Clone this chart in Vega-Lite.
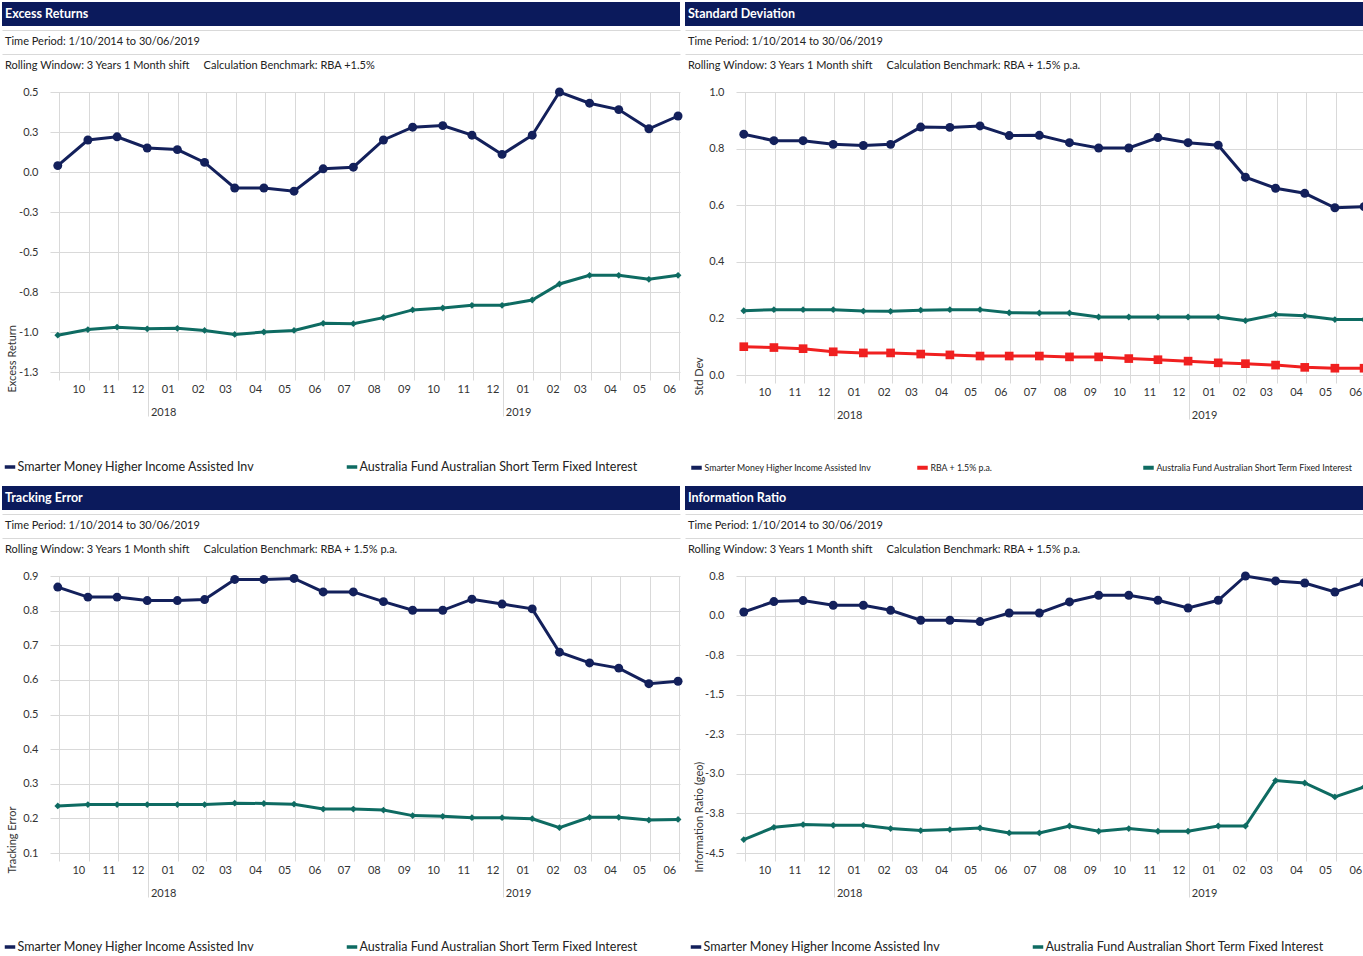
{
  "$schema": "https://vega.github.io/schema/vega-lite/v6.json",
  "background": "white",
  "padding": {"left": 2, "top": 2, "right": 0, "bottom": 0},
  "config": {
    "font": "Lato",
    "view": {"stroke": null},
    "axis": {"labelFont": "Lato", "labelFontSize": 11, "labelColor": "#333333", "titleFont": "Lato", "titleFontSize": 11, "titleFontWeight": "normal", "titleColor": "#333333", "gridColor": "#d9d9d9", "gridWidth": 1, "domain": false, "ticks": false},
    "legend": {"orient": "none", "direction": "horizontal", "title": null, "labelFont": "Lato", "labelFontSize": 12.5, "labelColor": "#222222", "symbolType": "stroke", "symbolStrokeWidth": 3.5, "symbolSize": 110, "labelOffset": 0.5, "gridAlign": "all", "columnPadding": 43, "labelLimit": 400, "padding": 0},
    "concat": {"spacing": 5}
  },
  "datasets": {
    "names": [
      {"key": "smarter", "series": "Smarter Money Higher Income Assisted Inv"},
      {"key": "aus", "series": "Australia Fund Australian Short Term Fixed Interest"},
      {"key": "rba", "series": "RBA + 1.5% p.a."}
    ],
    "excess": [
      {"date": "2017/09/30", "smarter": 0.04, "aus": -1.02},
      {"date": "2017/10/31", "smarter": 0.20, "aus": -0.985},
      {"date": "2017/11/30", "smarter": 0.22, "aus": -0.97},
      {"date": "2017/12/31", "smarter": 0.15, "aus": -0.98},
      {"date": "2018/01/31", "smarter": 0.14, "aus": -0.977},
      {"date": "2018/02/28", "smarter": 0.06, "aus": -0.99},
      {"date": "2018/03/31", "smarter": -0.10, "aus": -1.015},
      {"date": "2018/04/30", "smarter": -0.10, "aus": -1.0},
      {"date": "2018/05/31", "smarter": -0.12, "aus": -0.99},
      {"date": "2018/06/30", "smarter": 0.02, "aus": -0.946},
      {"date": "2018/07/31", "smarter": 0.03, "aus": -0.948},
      {"date": "2018/08/31", "smarter": 0.20, "aus": -0.91},
      {"date": "2018/09/30", "smarter": 0.28, "aus": -0.862},
      {"date": "2018/10/31", "smarter": 0.29, "aus": -0.85},
      {"date": "2018/11/30", "smarter": 0.23, "aus": -0.833},
      {"date": "2018/12/31", "smarter": 0.11, "aus": -0.833},
      {"date": "2019/01/31", "smarter": 0.23, "aus": -0.80},
      {"date": "2019/02/28", "smarter": 0.50, "aus": -0.70},
      {"date": "2019/03/31", "smarter": 0.43, "aus": -0.646},
      {"date": "2019/04/30", "smarter": 0.39, "aus": -0.646},
      {"date": "2019/05/31", "smarter": 0.27, "aus": -0.671},
      {"date": "2019/06/30", "smarter": 0.35, "aus": -0.646}
    ],
    "stdev": [
      {"date": "2017/09/30", "smarter": 0.851, "rba": 0.100, "aus": 0.227},
      {"date": "2017/10/31", "smarter": 0.828, "rba": 0.097, "aus": 0.231},
      {"date": "2017/11/30", "smarter": 0.828, "rba": 0.093, "aus": 0.231},
      {"date": "2017/12/31", "smarter": 0.815, "rba": 0.082, "aus": 0.231},
      {"date": "2018/01/31", "smarter": 0.811, "rba": 0.078, "aus": 0.226},
      {"date": "2018/02/28", "smarter": 0.815, "rba": 0.078, "aus": 0.225},
      {"date": "2018/03/31", "smarter": 0.876, "rba": 0.074, "aus": 0.229},
      {"date": "2018/04/30", "smarter": 0.875, "rba": 0.071, "aus": 0.231},
      {"date": "2018/05/31", "smarter": 0.880, "rba": 0.067, "aus": 0.231},
      {"date": "2018/06/30", "smarter": 0.846, "rba": 0.067, "aus": 0.220},
      {"date": "2018/07/31", "smarter": 0.847, "rba": 0.067, "aus": 0.219},
      {"date": "2018/08/31", "smarter": 0.821, "rba": 0.064, "aus": 0.219},
      {"date": "2018/09/30", "smarter": 0.802, "rba": 0.064, "aus": 0.205},
      {"date": "2018/10/31", "smarter": 0.802, "rba": 0.058, "aus": 0.205},
      {"date": "2018/11/30", "smarter": 0.839, "rba": 0.054, "aus": 0.205},
      {"date": "2018/12/31", "smarter": 0.821, "rba": 0.049, "aus": 0.205},
      {"date": "2019/01/31", "smarter": 0.812, "rba": 0.043, "aus": 0.205},
      {"date": "2019/02/28", "smarter": 0.699, "rba": 0.040, "aus": 0.192},
      {"date": "2019/03/31", "smarter": 0.660, "rba": 0.035, "aus": 0.214},
      {"date": "2019/04/30", "smarter": 0.642, "rba": 0.027, "aus": 0.209},
      {"date": "2019/05/31", "smarter": 0.591, "rba": 0.024, "aus": 0.196},
      {"date": "2019/06/30", "smarter": 0.595, "rba": 0.024, "aus": 0.196}
    ],
    "tracking": [
      {"date": "2017/09/30", "smarter": 0.868, "aus": 0.236},
      {"date": "2017/10/31", "smarter": 0.839, "aus": 0.240},
      {"date": "2017/11/30", "smarter": 0.839, "aus": 0.240},
      {"date": "2017/12/31", "smarter": 0.829, "aus": 0.240},
      {"date": "2018/01/31", "smarter": 0.829, "aus": 0.240},
      {"date": "2018/02/28", "smarter": 0.832, "aus": 0.240},
      {"date": "2018/03/31", "smarter": 0.890, "aus": 0.244},
      {"date": "2018/04/30", "smarter": 0.890, "aus": 0.243},
      {"date": "2018/05/31", "smarter": 0.893, "aus": 0.241},
      {"date": "2018/06/30", "smarter": 0.854, "aus": 0.227},
      {"date": "2018/07/31", "smarter": 0.854, "aus": 0.227},
      {"date": "2018/08/31", "smarter": 0.826, "aus": 0.224},
      {"date": "2018/09/30", "smarter": 0.801, "aus": 0.208},
      {"date": "2018/10/31", "smarter": 0.801, "aus": 0.206},
      {"date": "2018/11/30", "smarter": 0.833, "aus": 0.202},
      {"date": "2018/12/31", "smarter": 0.819, "aus": 0.202},
      {"date": "2019/01/31", "smarter": 0.805, "aus": 0.199},
      {"date": "2019/02/28", "smarter": 0.680, "aus": 0.173},
      {"date": "2019/03/31", "smarter": 0.649, "aus": 0.203},
      {"date": "2019/04/30", "smarter": 0.634, "aus": 0.203},
      {"date": "2019/05/31", "smarter": 0.589, "aus": 0.195},
      {"date": "2019/06/30", "smarter": 0.596, "aus": 0.197}
    ],
    "inforatio": [
      {"date": "2017/09/30", "smarter": 0.068, "aus": -4.246},
      {"date": "2017/10/31", "smarter": 0.265, "aus": -4.013},
      {"date": "2017/11/30", "smarter": 0.284, "aus": -3.961},
      {"date": "2017/12/31", "smarter": 0.195, "aus": -3.975},
      {"date": "2018/01/31", "smarter": 0.195, "aus": -3.975},
      {"date": "2018/02/28", "smarter": 0.100, "aus": -4.037},
      {"date": "2018/03/31", "smarter": -0.089, "aus": -4.075},
      {"date": "2018/04/30", "smarter": -0.089, "aus": -4.056},
      {"date": "2018/05/31", "smarter": -0.114, "aus": -4.026},
      {"date": "2018/06/30", "smarter": 0.049, "aus": -4.120},
      {"date": "2018/07/31", "smarter": 0.049, "aus": -4.120},
      {"date": "2018/08/31", "smarter": 0.258, "aus": -3.988},
      {"date": "2018/09/30", "smarter": 0.385, "aus": -4.088},
      {"date": "2018/10/31", "smarter": 0.385, "aus": -4.037},
      {"date": "2018/11/30", "smarter": 0.290, "aus": -4.088},
      {"date": "2018/12/31", "smarter": 0.144, "aus": -4.088},
      {"date": "2019/01/31", "smarter": 0.290, "aus": -3.988},
      {"date": "2019/02/28", "smarter": 0.750, "aus": -3.988},
      {"date": "2019/03/31", "smarter": 0.656, "aus": -3.127},
      {"date": "2019/04/30", "smarter": 0.618, "aus": -3.173},
      {"date": "2019/05/31", "smarter": 0.447, "aus": -3.438},
      {"date": "2019/06/30", "smarter": 0.625, "aus": -3.249}
    ]
  },
  "resolve": {"scale": {"color": "independent"}, "legend": {"color": "independent"}},
  "spacing": 10,
  "vconcat": [
    {
      "resolve": {"scale": {"color": "independent"}, "legend": {"color": "independent"}},
      "spacing": 8,
      "vconcat": [
        {
          "spacing": 4,
          "vconcat": [
            {
              "spacing": 5,
              "hconcat": [
                {"width": 678, "height": 24, "view": {"fill": "#0b1a5c", "stroke": null},
                 "data": {"values": [{"label": "Excess Returns"}]},
                 "mark": {"type": "text", "align": "left", "baseline": "middle", "dx": 3, "font": "Lato", "fontSize": 12.5, "fontWeight": "bold", "color": "#ffffff"},
                 "encoding": {"text": {"field": "label"}, "x": {"datum": 0, "type": "quantitative", "scale": {"domain": [0, 1]}, "axis": null}}},
                {"width": 678, "height": 24, "view": {"fill": "#0b1a5c", "stroke": null},
                 "data": {"values": [{"label": "Standard Deviation"}]},
                 "mark": {"type": "text", "align": "left", "baseline": "middle", "dx": 3, "font": "Lato", "fontSize": 12.5, "fontWeight": "bold", "color": "#ffffff"},
                 "encoding": {"text": {"field": "label"}, "x": {"datum": 0, "type": "quantitative", "scale": {"domain": [0, 1]}, "axis": null}}}
              ]
            },
            {
              "spacing": 5,
              "hconcat": [
                {"width": 678, "height": 48,
                 "data": {"values": [{"line": "period", "label": "Time Period: 1/10/2014 to 30/06/2019"}, {"line": "window", "label": "Rolling Window: 3 Years 1 Month shift \u00a0\u00a0\u00a0\u00a0Calculation Benchmark: RBA +1.5%"}]},
                 "mark": {"type": "text", "align": "left", "baseline": "middle", "dx": 3, "font": "Lato", "fontSize": 11, "color": "#222222"},
                 "encoding": {"text": {"field": "label"}, "x": {"datum": 0, "type": "quantitative", "scale": {"domain": [0, 1]}, "axis": null},
                   "y": {"field": "line", "type": "nominal", "sort": null, "scale": {"type": "band", "domain": ["period", "window"], "paddingInner": 0, "paddingOuter": 0}, "axis": {"grid": true, "bandPosition": 0, "labels": false, "ticks": false, "domain": false, "title": null}}}},
                {"width": 678, "height": 48,
                 "data": {"values": [{"line": "period", "label": "Time Period: 1/10/2014 to 30/06/2019"}, {"line": "window", "label": "Rolling Window: 3 Years 1 Month shift \u00a0\u00a0\u00a0\u00a0Calculation Benchmark: RBA + 1.5% p.a."}]},
                 "mark": {"type": "text", "align": "left", "baseline": "middle", "dx": 3, "font": "Lato", "fontSize": 11, "color": "#222222"},
                 "encoding": {"text": {"field": "label"}, "x": {"datum": 0, "type": "quantitative", "scale": {"domain": [0, 1]}, "axis": null},
                   "y": {"field": "line", "type": "nominal", "sort": null, "scale": {"type": "band", "domain": ["period", "window"], "paddingInner": 0, "paddingOuter": 0}, "axis": {"grid": true, "bandPosition": 0, "labels": false, "ticks": false, "domain": false, "title": null}}}}
              ]
            }
          ]
        },
        {
          "resolve": {"scale": {"color": "independent"}, "legend": {"color": "independent"}},
          "spacing": 3,
          "hconcat": [
            {
              "width": 678, "height": 280,
              "data": {"name": "excess"},
              "transform": [{"fold": ["smarter", "aus"], "as": ["key", "value"]}, {"lookup": "key", "from": {"data": {"name": "names"}, "key": "key", "fields": ["series"]}}],
              "encoding": {
                "y": {"field": "value", "type": "quantitative", "scale": {"domain": [-1.25, 0.5], "nice": false, "zero": false},
                  "axis": {"offset": -48, "values": [-1.25, -1, -0.75, -0.5, -0.25, 0, 0.25, 0.5], "labelExpr": "replace(format(datum.value, '.1f'), '\u2212', '-')", "labelPadding": 12, "grid": true, "title": "Excess Return", "titleAngle": -90, "titleAlign": "left", "titleBaseline": "middle", "titleX": -38, "titleY": 300}}
              },
              "layer": [
                {"mark": {"type": "line", "strokeWidth": 3},
                 "encoding": {
                   "x": {"field": "date", "type": "temporal", "scale": {"domain": [{"year": 2017, "month": 9, "date": 22}, {"year": 2019, "month": 7, "date": 2}], "range": [48, 678]},
                     "axis": {"orient": "bottom", "values": [{"year": 2017, "month": 10, "date": 1}, {"year": 2017, "month": 11, "date": 1}, {"year": 2017, "month": 12, "date": 1}, {"year": 2018, "month": 1, "date": 1}, {"year": 2018, "month": 2, "date": 1}, {"year": 2018, "month": 3, "date": 1}, {"year": 2018, "month": 4, "date": 1}, {"year": 2018, "month": 5, "date": 1}, {"year": 2018, "month": 6, "date": 1}, {"year": 2018, "month": 7, "date": 1}, {"year": 2018, "month": 8, "date": 1}, {"year": 2018, "month": 9, "date": 1}, {"year": 2018, "month": 10, "date": 1}, {"year": 2018, "month": 11, "date": 1}, {"year": 2018, "month": 12, "date": 1}, {"year": 2019, "month": 1, "date": 1}, {"year": 2019, "month": 2, "date": 1}, {"year": 2019, "month": 3, "date": 1}, {"year": 2019, "month": 4, "date": 1}, {"year": 2019, "month": 5, "date": 1}, {"year": 2019, "month": 6, "date": 1}], "format": "%m", "labelOffset": 19.5, "labelFlush": false, "labelOverlap": false, "labelBound": false, "grid": true, "ticks": true, "tickSize": 8, "tickColor": "#d9d9d9", "labelPadding": 3, "title": null}},
                   "color": {"field": "series", "type": "nominal", "scale": {"domain": ["Smarter Money Higher Income Assisted Inv", "Australia Fund Australian Short Term Fixed Interest"], "range": ["#13205b", "#0e6b62"]}, "legend": {"legendX": 1, "legendY": 368}}
                 }},
                {"transform": [{"filter": {"field": "key", "equal": "smarter"}}],
                 "mark": {"type": "point", "filled": true, "opacity": 1, "size": 80, "shape": "circle", "color": "#13205b"},
                 "encoding": {
                   "x": {"field": "date", "type": "temporal", "scale": {"domain": [{"year": 2017, "month": 9, "date": 22}, {"year": 2019, "month": 7, "date": 2}], "range": [48, 678]}, "axis": {"orient": "bottom", "values": [{"year": 2018, "month": 1, "date": 1}, {"year": 2019, "month": 1, "date": 1}], "format": "%Y", "labelOffset": 15, "labelFlush": false, "grid": false, "ticks": true, "tickSize": 44, "tickColor": "#d9d9d9", "labelPadding": -10, "title": null}}
                 }},
                {"transform": [{"filter": {"field": "key", "equal": "aus"}}],
                 "mark": {"type": "point", "filled": true, "opacity": 1, "size": 64, "shape": "M0,-0.85L0.85,0L0,0.85L-0.85,0Z", "color": "#0e6b62"},
                 "encoding": {
                   "x": {"field": "date", "type": "temporal", "scale": {"domain": [{"year": 2017, "month": 9, "date": 22}, {"year": 2019, "month": 7, "date": 2}], "range": [48, 678]}, "axis": {"orient": "bottom", "values": [{"year": 2019, "month": 7, "date": 1}], "labels": false, "grid": true, "ticks": true, "tickSize": 8, "tickColor": "#d9d9d9", "title": null}}
                 }}
              ],
              "resolve": {"axis": {"x": "independent"}}
            },
            {
              "width": 678, "height": 283,
              "data": {"name": "stdev"},
              "transform": [{"fold": ["smarter", "rba", "aus"], "as": ["key", "value"]}, {"lookup": "key", "from": {"data": {"name": "names"}, "key": "key", "fields": ["series"]}}],
              "encoding": {
                "y": {"field": "value", "type": "quantitative", "scale": {"domain": [0, 1], "nice": false, "zero": false},
                  "axis": {"offset": -48, "values": [0, 0.2, 0.4, 0.6, 0.8, 1.0], "labelExpr": "replace(format(datum.value, '.1f'), '\u2212', '-')", "labelPadding": 12, "grid": true, "title": "Std Dev", "titleAngle": -90, "titleAlign": "left", "titleBaseline": "middle", "titleX": -37, "titleY": 303}}
              },
              "layer": [
                {"mark": {"type": "line", "strokeWidth": 3},
                 "encoding": {
                   "x": {"field": "date", "type": "temporal", "scale": {"domain": [{"year": 2017, "month": 9, "date": 22}, {"year": 2019, "month": 7, "date": 2}], "range": [48, 678]},
                     "axis": {"orient": "bottom", "values": [{"year": 2017, "month": 10, "date": 1}, {"year": 2017, "month": 11, "date": 1}, {"year": 2017, "month": 12, "date": 1}, {"year": 2018, "month": 1, "date": 1}, {"year": 2018, "month": 2, "date": 1}, {"year": 2018, "month": 3, "date": 1}, {"year": 2018, "month": 4, "date": 1}, {"year": 2018, "month": 5, "date": 1}, {"year": 2018, "month": 6, "date": 1}, {"year": 2018, "month": 7, "date": 1}, {"year": 2018, "month": 8, "date": 1}, {"year": 2018, "month": 9, "date": 1}, {"year": 2018, "month": 10, "date": 1}, {"year": 2018, "month": 11, "date": 1}, {"year": 2018, "month": 12, "date": 1}, {"year": 2019, "month": 1, "date": 1}, {"year": 2019, "month": 2, "date": 1}, {"year": 2019, "month": 3, "date": 1}, {"year": 2019, "month": 4, "date": 1}, {"year": 2019, "month": 5, "date": 1}, {"year": 2019, "month": 6, "date": 1}], "format": "%m", "labelOffset": 19.5, "labelFlush": false, "labelOverlap": false, "labelBound": false, "grid": true, "ticks": true, "tickSize": 8, "tickColor": "#d9d9d9", "labelPadding": 3, "title": null}},
                   "color": {"field": "series", "type": "nominal", "scale": {"domain": ["Smarter Money Higher Income Assisted Inv", "RBA + 1.5% p.a.", "Australia Fund Australian Short Term Fixed Interest"], "range": ["#13205b", "#f02020", "#0e6b62"]}, "legend": {"legendX": 1, "legendY": 368, "labelFontSize": 8.8, "columnPadding": 8, "symbolStrokeWidth": 4}}
                 }},
                {"transform": [{"filter": {"field": "key", "equal": "smarter"}}],
                 "mark": {"type": "point", "filled": true, "opacity": 1, "size": 80, "shape": "circle", "color": "#13205b"},
                 "encoding": {
                   "x": {"field": "date", "type": "temporal", "scale": {"domain": [{"year": 2017, "month": 9, "date": 22}, {"year": 2019, "month": 7, "date": 2}], "range": [48, 678]}, "axis": {"orient": "bottom", "values": [{"year": 2018, "month": 1, "date": 1}, {"year": 2019, "month": 1, "date": 1}], "format": "%Y", "labelOffset": 15, "labelFlush": false, "grid": false, "ticks": true, "tickSize": 44, "tickColor": "#d9d9d9", "labelPadding": -10, "title": null}}
                 }},
                {"transform": [{"filter": {"field": "key", "equal": "aus"}}],
                 "mark": {"type": "point", "filled": true, "opacity": 1, "size": 64, "shape": "M0,-0.85L0.85,0L0,0.85L-0.85,0Z", "color": "#0e6b62"},
                 "encoding": {
                   "x": {"field": "date", "type": "temporal", "scale": {"domain": [{"year": 2017, "month": 9, "date": 22}, {"year": 2019, "month": 7, "date": 2}], "range": [48, 678]}, "axis": {"orient": "bottom", "values": [{"year": 2019, "month": 7, "date": 1}], "labels": false, "grid": true, "ticks": true, "tickSize": 8, "tickColor": "#d9d9d9", "title": null}}
                 }},
                {"transform": [{"filter": {"field": "key", "equal": "rba"}}],
                 "mark": {"type": "point", "filled": true, "opacity": 1, "size": 75, "shape": "square", "color": "#f02020"},
                 "encoding": {
                   "x": {"field": "date", "type": "temporal", "scale": {"domain": [{"year": 2017, "month": 9, "date": 22}, {"year": 2019, "month": 7, "date": 2}], "range": [48, 678]}, "axis": null}
                 }}
              ],
              "resolve": {"axis": {"x": "independent"}}
            }
          ]
        }
      ]
    },
    {
      "resolve": {"scale": {"color": "independent"}, "legend": {"color": "independent"}},
      "spacing": 8,
      "vconcat": [
        {
          "spacing": 4,
          "vconcat": [
            {
              "spacing": 5,
              "hconcat": [
                {"width": 678, "height": 24, "view": {"fill": "#0b1a5c", "stroke": null},
                 "data": {"values": [{"label": "Tracking Error"}]},
                 "mark": {"type": "text", "align": "left", "baseline": "middle", "dx": 3, "font": "Lato", "fontSize": 12.5, "fontWeight": "bold", "color": "#ffffff"},
                 "encoding": {"text": {"field": "label"}, "x": {"datum": 0, "type": "quantitative", "scale": {"domain": [0, 1]}, "axis": null}}},
                {"width": 678, "height": 24, "view": {"fill": "#0b1a5c", "stroke": null},
                 "data": {"values": [{"label": "Information Ratio"}]},
                 "mark": {"type": "text", "align": "left", "baseline": "middle", "dx": 3, "font": "Lato", "fontSize": 12.5, "fontWeight": "bold", "color": "#ffffff"},
                 "encoding": {"text": {"field": "label"}, "x": {"datum": 0, "type": "quantitative", "scale": {"domain": [0, 1]}, "axis": null}}}
              ]
            },
            {
              "spacing": 5,
              "hconcat": [
                {"width": 678, "height": 48,
                 "data": {"values": [{"line": "period", "label": "Time Period: 1/10/2014 to 30/06/2019"}, {"line": "window", "label": "Rolling Window: 3 Years 1 Month shift \u00a0\u00a0\u00a0\u00a0Calculation Benchmark: RBA + 1.5% p.a."}]},
                 "mark": {"type": "text", "align": "left", "baseline": "middle", "dx": 3, "font": "Lato", "fontSize": 11, "color": "#222222"},
                 "encoding": {"text": {"field": "label"}, "x": {"datum": 0, "type": "quantitative", "scale": {"domain": [0, 1]}, "axis": null},
                   "y": {"field": "line", "type": "nominal", "sort": null, "scale": {"type": "band", "domain": ["period", "window"], "paddingInner": 0, "paddingOuter": 0}, "axis": {"grid": true, "bandPosition": 0, "labels": false, "ticks": false, "domain": false, "title": null}}}},
                {"width": 678, "height": 48,
                 "data": {"values": [{"line": "period", "label": "Time Period: 1/10/2014 to 30/06/2019"}, {"line": "window", "label": "Rolling Window: 3 Years 1 Month shift \u00a0\u00a0\u00a0\u00a0Calculation Benchmark: RBA + 1.5% p.a."}]},
                 "mark": {"type": "text", "align": "left", "baseline": "middle", "dx": 3, "font": "Lato", "fontSize": 11, "color": "#222222"},
                 "encoding": {"text": {"field": "label"}, "x": {"datum": 0, "type": "quantitative", "scale": {"domain": [0, 1]}, "axis": null},
                   "y": {"field": "line", "type": "nominal", "sort": null, "scale": {"type": "band", "domain": ["period", "window"], "paddingInner": 0, "paddingOuter": 0}, "axis": {"grid": true, "bandPosition": 0, "labels": false, "ticks": false, "domain": false, "title": null}}}}
              ]
            }
          ]
        },
        {
          "resolve": {"scale": {"color": "independent"}, "legend": {"color": "independent"}},
          "spacing": 3,
          "hconcat": [
            {
              "width": 678, "height": 277,
              "data": {"name": "tracking"},
              "transform": [{"fold": ["smarter", "aus"], "as": ["key", "value"]}, {"lookup": "key", "from": {"data": {"name": "names"}, "key": "key", "fields": ["series"]}}],
              "encoding": {
                "y": {"field": "value", "type": "quantitative", "scale": {"domain": [0.1, 0.9], "nice": false, "zero": false},
                  "axis": {"offset": -48, "values": [0.1, 0.2, 0.3, 0.4, 0.5, 0.6, 0.7, 0.8, 0.9], "labelExpr": "replace(format(datum.value, '.1f'), '\u2212', '-')", "labelPadding": 12, "grid": true, "title": "Tracking Error", "titleAngle": -90, "titleAlign": "left", "titleBaseline": "middle", "titleX": -38, "titleY": 297}}
              },
              "layer": [
                {"mark": {"type": "line", "strokeWidth": 3},
                 "encoding": {
                   "x": {"field": "date", "type": "temporal", "scale": {"domain": [{"year": 2017, "month": 9, "date": 22}, {"year": 2019, "month": 7, "date": 2}], "range": [48, 678]},
                     "axis": {"orient": "bottom", "values": [{"year": 2017, "month": 10, "date": 1}, {"year": 2017, "month": 11, "date": 1}, {"year": 2017, "month": 12, "date": 1}, {"year": 2018, "month": 1, "date": 1}, {"year": 2018, "month": 2, "date": 1}, {"year": 2018, "month": 3, "date": 1}, {"year": 2018, "month": 4, "date": 1}, {"year": 2018, "month": 5, "date": 1}, {"year": 2018, "month": 6, "date": 1}, {"year": 2018, "month": 7, "date": 1}, {"year": 2018, "month": 8, "date": 1}, {"year": 2018, "month": 9, "date": 1}, {"year": 2018, "month": 10, "date": 1}, {"year": 2018, "month": 11, "date": 1}, {"year": 2018, "month": 12, "date": 1}, {"year": 2019, "month": 1, "date": 1}, {"year": 2019, "month": 2, "date": 1}, {"year": 2019, "month": 3, "date": 1}, {"year": 2019, "month": 4, "date": 1}, {"year": 2019, "month": 5, "date": 1}, {"year": 2019, "month": 6, "date": 1}], "format": "%m", "labelOffset": 19.5, "labelFlush": false, "labelOverlap": false, "labelBound": false, "grid": true, "ticks": true, "tickSize": 8, "tickColor": "#d9d9d9", "labelPadding": 3, "title": null}},
                   "color": {"field": "series", "type": "nominal", "scale": {"domain": ["Smarter Money Higher Income Assisted Inv", "Australia Fund Australian Short Term Fixed Interest"], "range": ["#13205b", "#0e6b62"]}, "legend": {"legendX": 1, "legendY": 364}}
                 }},
                {"transform": [{"filter": {"field": "key", "equal": "smarter"}}],
                 "mark": {"type": "point", "filled": true, "opacity": 1, "size": 80, "shape": "circle", "color": "#13205b"},
                 "encoding": {
                   "x": {"field": "date", "type": "temporal", "scale": {"domain": [{"year": 2017, "month": 9, "date": 22}, {"year": 2019, "month": 7, "date": 2}], "range": [48, 678]}, "axis": {"orient": "bottom", "values": [{"year": 2018, "month": 1, "date": 1}, {"year": 2019, "month": 1, "date": 1}], "format": "%Y", "labelOffset": 15, "labelFlush": false, "grid": false, "ticks": true, "tickSize": 44, "tickColor": "#d9d9d9", "labelPadding": -10, "title": null}}
                 }},
                {"transform": [{"filter": {"field": "key", "equal": "aus"}}],
                 "mark": {"type": "point", "filled": true, "opacity": 1, "size": 64, "shape": "M0,-0.85L0.85,0L0,0.85L-0.85,0Z", "color": "#0e6b62"},
                 "encoding": {
                   "x": {"field": "date", "type": "temporal", "scale": {"domain": [{"year": 2017, "month": 9, "date": 22}, {"year": 2019, "month": 7, "date": 2}], "range": [48, 678]}, "axis": {"orient": "bottom", "values": [{"year": 2019, "month": 7, "date": 1}], "labels": false, "grid": true, "ticks": true, "tickSize": 8, "tickColor": "#d9d9d9", "title": null}}
                 }}
              ],
              "resolve": {"axis": {"x": "independent"}}
            },
            {
              "width": 678, "height": 277,
              "data": {"name": "inforatio"},
              "transform": [{"fold": ["smarter", "aus"], "as": ["key", "value"]}, {"lookup": "key", "from": {"data": {"name": "names"}, "key": "key", "fields": ["series"]}}],
              "encoding": {
                "y": {"field": "value", "type": "quantitative", "scale": {"domain": [-4.5, 0.75], "nice": false, "zero": false},
                  "axis": {"offset": -48, "values": [-4.5, -3.75, -3, -2.25, -1.5, -0.75, 0, 0.75], "labelExpr": "replace(format(datum.value, '.1f'), '\u2212', '-')", "labelPadding": 12, "grid": true, "title": "Information Ratio (geo)", "titleAngle": -90, "titleAlign": "left", "titleBaseline": "middle", "titleX": -37, "titleY": 296}}
              },
              "layer": [
                {"mark": {"type": "line", "strokeWidth": 3},
                 "encoding": {
                   "x": {"field": "date", "type": "temporal", "scale": {"domain": [{"year": 2017, "month": 9, "date": 22}, {"year": 2019, "month": 7, "date": 2}], "range": [48, 678]},
                     "axis": {"orient": "bottom", "values": [{"year": 2017, "month": 10, "date": 1}, {"year": 2017, "month": 11, "date": 1}, {"year": 2017, "month": 12, "date": 1}, {"year": 2018, "month": 1, "date": 1}, {"year": 2018, "month": 2, "date": 1}, {"year": 2018, "month": 3, "date": 1}, {"year": 2018, "month": 4, "date": 1}, {"year": 2018, "month": 5, "date": 1}, {"year": 2018, "month": 6, "date": 1}, {"year": 2018, "month": 7, "date": 1}, {"year": 2018, "month": 8, "date": 1}, {"year": 2018, "month": 9, "date": 1}, {"year": 2018, "month": 10, "date": 1}, {"year": 2018, "month": 11, "date": 1}, {"year": 2018, "month": 12, "date": 1}, {"year": 2019, "month": 1, "date": 1}, {"year": 2019, "month": 2, "date": 1}, {"year": 2019, "month": 3, "date": 1}, {"year": 2019, "month": 4, "date": 1}, {"year": 2019, "month": 5, "date": 1}, {"year": 2019, "month": 6, "date": 1}], "format": "%m", "labelOffset": 19.5, "labelFlush": false, "labelOverlap": false, "labelBound": false, "grid": true, "ticks": true, "tickSize": 8, "tickColor": "#d9d9d9", "labelPadding": 3, "title": null}},
                   "color": {"field": "series", "type": "nominal", "scale": {"domain": ["Smarter Money Higher Income Assisted Inv", "Australia Fund Australian Short Term Fixed Interest"], "range": ["#13205b", "#0e6b62"]}, "legend": {"legendX": 1, "legendY": 364}}
                 }},
                {"transform": [{"filter": {"field": "key", "equal": "smarter"}}],
                 "mark": {"type": "point", "filled": true, "opacity": 1, "size": 80, "shape": "circle", "color": "#13205b"},
                 "encoding": {
                   "x": {"field": "date", "type": "temporal", "scale": {"domain": [{"year": 2017, "month": 9, "date": 22}, {"year": 2019, "month": 7, "date": 2}], "range": [48, 678]}, "axis": {"orient": "bottom", "values": [{"year": 2018, "month": 1, "date": 1}, {"year": 2019, "month": 1, "date": 1}], "format": "%Y", "labelOffset": 15, "labelFlush": false, "grid": false, "ticks": true, "tickSize": 44, "tickColor": "#d9d9d9", "labelPadding": -10, "title": null}}
                 }},
                {"transform": [{"filter": {"field": "key", "equal": "aus"}}],
                 "mark": {"type": "point", "filled": true, "opacity": 1, "size": 64, "shape": "M0,-0.85L0.85,0L0,0.85L-0.85,0Z", "color": "#0e6b62"},
                 "encoding": {
                   "x": {"field": "date", "type": "temporal", "scale": {"domain": [{"year": 2017, "month": 9, "date": 22}, {"year": 2019, "month": 7, "date": 2}], "range": [48, 678]}, "axis": {"orient": "bottom", "values": [{"year": 2019, "month": 7, "date": 1}], "labels": false, "grid": true, "ticks": true, "tickSize": 8, "tickColor": "#d9d9d9", "title": null}}
                 }}
              ],
              "resolve": {"axis": {"x": "independent"}}
            }
          ]
        }
      ]
    }
  ]
}
